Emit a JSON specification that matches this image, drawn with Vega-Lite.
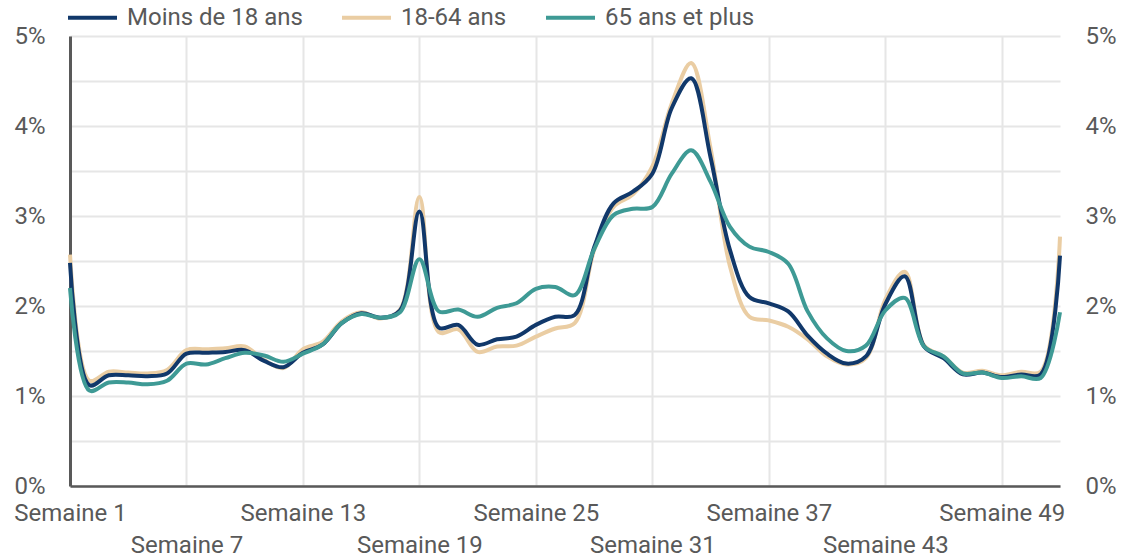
{
  "$schema": "https://vega.github.io/schema/vega-lite/v6.json",
  "width": 990,
  "height": 450,
  "autosize": {"type": "none"},
  "padding": {"left": 70, "top": 36, "right": 61, "bottom": 74},
  "background": "white",
  "config": {
    "font": "Roboto",
    "view": {"stroke": null},
    "axis": {"labelFont": "Roboto", "labelFontSize": 24, "labelColor": "#595959", "ticks": false, "title": null},
    "legend": {"labelFont": "Roboto", "labelFontSize": 24, "labelColor": "#595959", "labelLimit": 0}
  },
  "data": {
    "values": [
      {"semaine": 1, "m": 2.48, "a": 2.57, "s": 2.2},
      {"semaine": 2, "m": 1.12, "a": 1.17, "s": 1.06},
      {"semaine": 3, "m": 1.23, "a": 1.27, "s": 1.15},
      {"semaine": 4, "m": 1.23, "a": 1.26, "s": 1.15},
      {"semaine": 5, "m": 1.22, "a": 1.25, "s": 1.13},
      {"semaine": 6, "m": 1.25, "a": 1.29, "s": 1.17},
      {"semaine": 7, "m": 1.47, "a": 1.51, "s": 1.36},
      {"semaine": 8, "m": 1.48, "a": 1.52, "s": 1.35},
      {"semaine": 9, "m": 1.49, "a": 1.53, "s": 1.42},
      {"semaine": 10, "m": 1.51, "a": 1.55, "s": 1.48},
      {"semaine": 11, "m": 1.39, "a": 1.4, "s": 1.45},
      {"semaine": 12, "m": 1.32, "a": 1.31, "s": 1.38},
      {"semaine": 13, "m": 1.48, "a": 1.52, "s": 1.47},
      {"semaine": 14, "m": 1.57, "a": 1.6, "s": 1.57},
      {"semaine": 15, "m": 1.81, "a": 1.83, "s": 1.81},
      {"semaine": 16, "m": 1.92, "a": 1.93, "s": 1.91},
      {"semaine": 17, "m": 1.87, "a": 1.86, "s": 1.87},
      {"semaine": 18, "m": 1.95, "a": 1.96, "s": 1.93},
      {"semaine": 19, "m": 3.05, "a": 3.21, "s": 2.52},
      {"semaine": 20, "m": 1.76, "a": 1.71, "s": 1.94},
      {"semaine": 21, "m": 1.79, "a": 1.74, "s": 1.96},
      {"semaine": 22, "m": 1.57, "a": 1.49, "s": 1.88},
      {"semaine": 23, "m": 1.63, "a": 1.55, "s": 1.98},
      {"semaine": 24, "m": 1.66, "a": 1.56, "s": 2.03},
      {"semaine": 25, "m": 1.79, "a": 1.66, "s": 2.19},
      {"semaine": 26, "m": 1.88, "a": 1.75, "s": 2.21},
      {"semaine": 27, "m": 1.9, "a": 1.81, "s": 2.12},
      {"semaine": 28, "m": 2.65, "a": 2.62, "s": 2.63},
      {"semaine": 29, "m": 3.14, "a": 3.1, "s": 3.01},
      {"semaine": 30, "m": 3.27, "a": 3.24, "s": 3.08},
      {"semaine": 31, "m": 3.47, "a": 3.55, "s": 3.1},
      {"semaine": 32, "m": 4.2, "a": 4.25, "s": 3.47},
      {"semaine": 33, "m": 4.53, "a": 4.7, "s": 3.73},
      {"semaine": 34, "m": 3.65, "a": 3.75, "s": 3.38},
      {"semaine": 35, "m": 2.62, "a": 2.44, "s": 2.88},
      {"semaine": 36, "m": 2.1, "a": 1.88, "s": 2.66},
      {"semaine": 37, "m": 2.03, "a": 1.84, "s": 2.6},
      {"semaine": 38, "m": 1.94, "a": 1.77, "s": 2.47},
      {"semaine": 39, "m": 1.67, "a": 1.63, "s": 1.94},
      {"semaine": 40, "m": 1.47, "a": 1.44, "s": 1.64},
      {"semaine": 41, "m": 1.36, "a": 1.35, "s": 1.5},
      {"semaine": 42, "m": 1.44, "a": 1.42, "s": 1.56},
      {"semaine": 43, "m": 2.02, "a": 2.07, "s": 1.95},
      {"semaine": 44, "m": 2.33, "a": 2.38, "s": 2.09},
      {"semaine": 45, "m": 1.55, "a": 1.56, "s": 1.55},
      {"semaine": 46, "m": 1.42, "a": 1.44, "s": 1.44},
      {"semaine": 47, "m": 1.24, "a": 1.26, "s": 1.25},
      {"semaine": 48, "m": 1.26, "a": 1.28, "s": 1.26},
      {"semaine": 49, "m": 1.21, "a": 1.23, "s": 1.2},
      {"semaine": 50, "m": 1.24, "a": 1.27, "s": 1.22},
      {"semaine": 51, "m": 1.24, "a": 1.27, "s": 1.2},
      {"semaine": 52, "m": 2.56, "a": 2.77, "s": 1.93}
    ]
  },
  "transform": [
    {"fold": ["m", "a", "s"], "as": ["cle", "taux"]},
    {"lookup": "cle", "from": {"data": {"values": [
      {"cle": "m", "groupe": "Moins de 18 ans"},
      {"cle": "a", "groupe": "18-64 ans"},
      {"cle": "s", "groupe": "65 ans et plus"}
    ]}, "key": "cle", "fields": ["groupe"]}}
  ],
  "encoding": {
    "x": {
      "field": "semaine", "type": "quantitative",
      "scale": {"domain": [1, 52], "nice": false, "zero": false},
      "axis": {
        "values": [1, 7, 13, 19, 25, 31, 37, 43, 49],
        "labelExpr": "(datum.value - 1) % 12 == 0 ? 'Semaine ' + datum.value : ['', 'Semaine ' + datum.value]",
        "labelOverlap": false, "labelBound": false, "labelFlush": false,
        "labelPadding": 15, "labelLineHeight": 32, "labelBaseline": "top",
        "grid": true, "gridColor": "#e6e6e6", "gridWidth": 2,
        "domain": true, "domainColor": "#595959", "domainWidth": 2.5
      }
    },
    "color": {
      "field": "groupe", "type": "nominal",
      "scale": {"domain": ["Moins de 18 ans", "18-64 ans", "65 ans et plus"], "range": ["#11386a", "#eacda3", "#3e9a95"]},
      "legend": {
        "orient": "none", "legendX": -4, "legendY": -45, "direction": "horizontal",
        "title": null, "symbolType": "stroke", "symbolStrokeWidth": 4, "symbolSize": 2401,
        "labelOffset": 8, "columnPadding": 31
      }
    }
  },
  "layer": [
    {
      "transform": [{"filter": "datum.cle == 'a'"}],
      "mark": {"type": "line", "interpolate": "catmull-rom", "strokeWidth": 4},
      "encoding": {
        "y": {
          "field": "taux", "type": "quantitative",
          "scale": {"domain": [0, 5], "nice": false},
          "axis": {
            "orient": "left",
            "values": [0, 0.5, 1, 1.5, 2, 2.5, 3, 3.5, 4, 4.5, 5],
            "labelExpr": "datum.value % 1 == 0 ? datum.value + '%' : ''",
            "labelPadding": 25,
            "grid": true, "gridColor": "#e6e6e6", "gridWidth": 2,
            "domain": true, "domainColor": "#595959", "domainWidth": 3
          }
        }
      }
    },
    {
      "transform": [{"filter": "datum.cle == 'm'"}],
      "mark": {"type": "line", "interpolate": "catmull-rom", "strokeWidth": 4},
      "encoding": {"y": {"field": "taux", "type": "quantitative", "axis": null}}
    },
    {
      "transform": [{"filter": "datum.cle == 's'"}],
      "mark": {"type": "line", "interpolate": "catmull-rom", "strokeWidth": 4},
      "encoding": {"y": {"field": "taux", "type": "quantitative", "axis": null}}
    },
    {
      "mark": {"type": "point", "opacity": 0},
      "encoding": {
        "color": {"value": "transparent"},
        "y": {
          "field": "taux", "type": "quantitative",
          "axis": {
            "orient": "right",
            "values": [0, 1, 2, 3, 4, 5],
            "labelExpr": "datum.value + '%'",
            "labelPadding": 25,
            "grid": false, "domain": false
          }
        }
      }
    }
  ],
  "resolve": {"axis": {"y": "independent"}}
}
